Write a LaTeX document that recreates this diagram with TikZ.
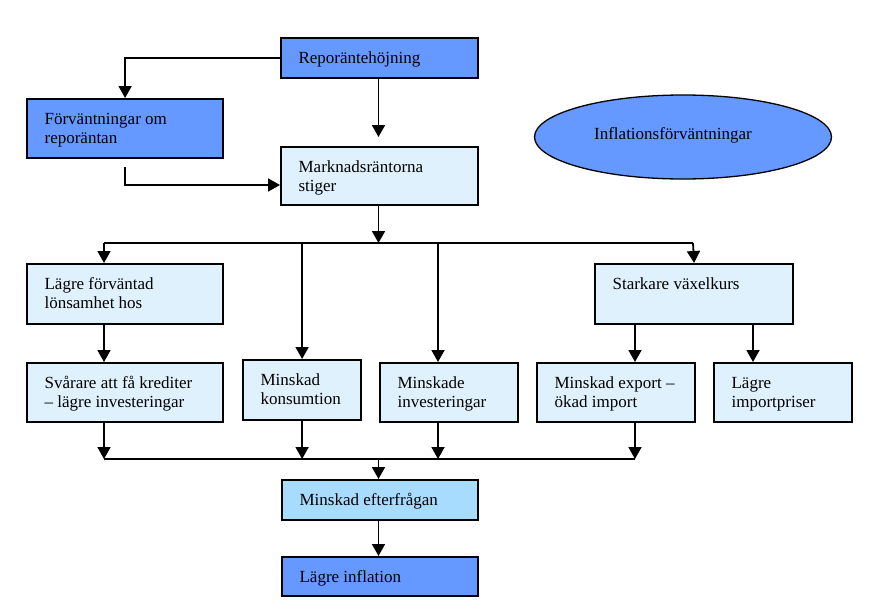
\documentclass[tikz,border=0pt]{standalone}
\usepackage{fontspec}
\setmainfont{Liberation Serif}
\usetikzlibrary{arrows.meta,shapes.geometric}
\definecolor{dblue}{HTML}{6699FF}
\definecolor{lblue}{HTML}{DFF1FD}
\definecolor{mblue}{HTML}{A8DCFF}
\newcommand{\bxt}[3]{\parbox[b][#2][t]{#1}{\rule{0pt}{25pt}#3}}
\tikzset{
  box/.style={draw, line width=2.2pt, inner xsep=17.5pt, inner ysep=0pt, anchor=north west,
    font=\fontsize{17}{19.5}\selectfont},
  arr/.style={-{Triangle[length=12pt,width=13pt]}, line width=1.8pt},
  ln/.style={line width=1.8pt}
}
\begin{document}
\begin{tikzpicture}[x=1pt,y=-1pt]
\fill[white] (0,0) rectangle (875,613);
\useasboundingbox (0,0) rectangle (875,613);
% boxes
\node[box, fill=dblue] (repo) at (280,37) {\bxt{162pt}{40pt}{Reporäntehöjning}};
\node[box, fill=dblue] (forv) at (26,98) {\bxt{161pt}{59pt}{Förväntningar om\\reporäntan}};
\node[box, fill=lblue] (mark) at (280,146) {\bxt{162pt}{58pt}{Marknadsräntorna\\stiger}};
\node[ellipse, draw, line width=1.3pt, fill=dblue, minimum width=297pt, minimum height=84pt,
  inner sep=0pt, font=\fontsize{17}{19.5}\selectfont] (ell) at (683,137)
  {\hspace*{-20pt}\raisebox{6pt}{Inflationsförväntningar}};
\node[box, fill=lblue] (lagre) at (26,263) {\bxt{161pt}{60pt}{Lägre förväntad\\lönsamhet hos}};
\node[box, fill=lblue] (stark) at (594,263) {\bxt{163pt}{60pt}{Starkare växelkurs}};
\node[box, fill=lblue] (svar) at (26,362) {\bxt{161pt}{59pt}{Svårare att få krediter\\– lägre investeringar}};
\node[box, fill=lblue] (kons) at (242,359) {\bxt{83pt}{60pt}{Minskad\\konsumtion}};
\node[box, fill=lblue] (inv) at (379,362) {\bxt{103pt}{59pt}{Minskade\\investeringar}};
\node[box, fill=lblue] (exp) at (536,362) {\bxt{123pt}{59pt}{Minskad export –\\ökad import}};
\node[box, fill=lblue] (imp) at (713,362) {\bxt{103pt}{59pt}{Lägre\\importpriser}};
\node[box, fill=mblue] (eft) at (281,479) {\bxt{161pt}{40pt}{Minskad efterfrågan}};
\node[box, fill=dblue] (infl) at (281,556) {\bxt{161pt}{39pt}{Lägre inflation}};
% helper coordinates
\coordinate (m185) at (280,185);
\coordinate (bL) at (104,243);
\coordinate (bM) at (378.5,243);
\coordinate (bI) at (438,243);
\coordinate (bR) at (693,243);
\coordinate (xE) at (635,0);
\coordinate (xP) at (753,0);
\coordinate (cL) at (104,459);
\coordinate (cM) at (378.5,459);
\coordinate (cR) at (635,459);
% connectors
\draw[arr] (repo.west) -| (forv.north);
\draw[arr, shorten >=9pt] (bM |- repo.south) -- (bM |- mark.north);
\draw[arr, shorten <=8pt] (forv.south) |- (m185);
\draw[arr] (bM |- mark.south) -- (bM);
\draw[ln] (bL) -- (bR);
\draw[arr] (bL) -- (bL |- lagre.north);
\draw[arr] (kons.north |- bL) -- (kons.north);
\draw[arr] (bI) -- (bI |- inv.north);
\draw[arr] (bR) -- (stark.north);
\draw[arr] (bL |- lagre.south) -- (bL |- svar.north);
\draw[arr] (xE |- stark.south) -- (xE |- exp.north);
\draw[arr] (xP |- stark.south) -- (xP |- imp.north);
\draw[ln] (cL) -- (cR);
\draw[arr] (cL |- svar.south) -- (cL);
\draw[arr] (kons.south) -- (kons.south |- cL);
\draw[arr] (bI |- inv.south) -- (bI |- cL);
\draw[arr] (cR |- exp.south) -- (cR);
\draw[arr] (cM) -- (cM |- eft.north);
\draw[arr] (cM |- eft.south) -- (cM |- infl.north);
\end{tikzpicture}
\end{document}
